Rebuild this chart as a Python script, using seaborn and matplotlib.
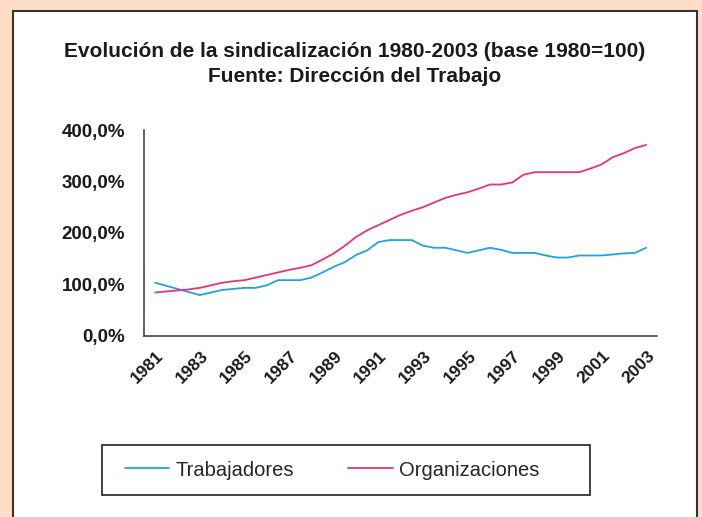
import numpy as np
import pandas as pd
import matplotlib
matplotlib.use('Agg')
import matplotlib.pyplot as plt
import matplotlib.transforms as mtransforms
import seaborn as sns
from matplotlib.patches import Rectangle
from matplotlib.lines import Line2D
from matplotlib.ticker import FuncFormatter, FixedLocator

# Datos (semestrales), base 1980 = 100
periodos = np.arange(1981, 2003.5, 0.5)
trabajadores = [103, 97, 91, 85, 79, 84, 89, 91, 93, 93,
                98, 108, 108, 108, 113, 123, 134, 143, 157, 166,
                182, 186, 186, 186, 175, 171, 171, 166, 161, 166,
                171, 167, 161, 161, 161, 156, 152, 152, 156, 156,
                156, 158, 160, 161, 171]
organizaciones = [84, 86, 88, 90, 93, 98, 103, 106, 108, 113,
                  118, 123, 128, 132, 137, 148, 160, 175, 192, 205,
                  215, 225, 235, 243, 250, 259, 268, 274, 279, 286,
                  294, 294, 298, 313, 318, 318, 318, 318, 318, 325,
                  333, 347, 355, 365, 371]
series = ['Trabajadores', 'Organizaciones']
colores = ['#21A3DC', '#E8337B']
etiquetas_x = list(range(1981, 2004, 2))

df = pd.DataFrame({
    'periodo': np.concatenate([periodos, periodos]),
    'valor': trabajadores + organizaciones,
    'serie': ['Trabajadores'] * len(trabajadores) + ['Organizaciones'] * len(organizaciones),
})

sns.set_style('white')
plt.rcParams['font.family'] = ['Liberation Sans', 'DejaVu Sans']

fig = plt.figure(figsize=(7.02, 5.17), dpi=100)
fig.patch.set_facecolor('#FFDDC6')

# panel blanco con borde oscuro (detrás de todo)
panel = Rectangle((13 / 702, -0.05), 684 / 702, 1 - 11 / 517 + 0.05,
                  transform=fig.transFigure, facecolor='white',
                  edgecolor='#333333', linewidth=1.5, zorder=-10)
fig.patches.append(panel)

ax = fig.add_axes([144 / 702, 1 - 335.7 / 517, 513.3 / 702, 205.7 / 517])
ax.set_zorder(5)
ax.set_facecolor('none')
sns.lineplot(data=df, x='periodo', y='valor', hue='serie', hue_order=series,
             palette=colores, linewidth=1.3, legend=False, ax=ax)

ax.set_xlim(1980.5, 2003.5)
ax.set_ylim(0, 400)
ax.set_xlabel('')
ax.set_ylabel('')
ax.set_yticks([0, 100, 200, 300, 400])
ax.yaxis.set_major_formatter(FuncFormatter(lambda v, p: f'{v:.1f}%'.replace('.', ',')))

# marcas entre categorías, etiquetas cada dos años
ax.xaxis.set_major_locator(FixedLocator(np.arange(1980.5, 2004, 1)))
ax.xaxis.set_major_formatter(FuncFormatter(lambda v, p: ''))
ax.xaxis.set_minor_locator(FixedLocator(etiquetas_x))
ax.xaxis.set_minor_formatter(FuncFormatter(lambda v, p: f'{int(round(v))}'))
ax.tick_params(axis='x', which='major', direction='out', length=4, width=1, color='#333333')
ax.tick_params(axis='x', which='minor', length=0, pad=13)
ax.tick_params(axis='y', direction='out', length=4.5, width=1, color='#333333', pad=9)
desplaza = mtransforms.ScaledTranslation(6 / 100, 0, fig.dpi_scale_trans)
for lab in ax.get_xticklabels(minor=True):
    lab.set_rotation(45)
    lab.set_ha('right')
    lab.set_va('center')
    lab.set_rotation_mode('anchor')
    lab.set_fontsize(12.5)
    lab.set_fontweight('bold')
    lab.set_color('#1a1a1a')
    lab.set_transform(lab.get_transform() + desplaza)
for lab in ax.get_yticklabels():
    lab.set_fontsize(13.5)
    lab.set_fontweight('bold')
    lab.set_color('#1a1a1a')

for s in ['top', 'right']:
    ax.spines[s].set_visible(False)
for s in ['left', 'bottom']:
    ax.spines[s].set_color('#333333')
    ax.spines[s].set_linewidth(1.1)

fig.text(355 / 702, 1 - 64 / 517,
         'Evolución de la sindicalización 1980-2003 (base 1980=100)\nFuente: Dirección del Trabajo',
         ha='center', va='center', fontsize=15, fontweight='bold',
         color='#1a1a1a', linespacing=1.45)

# leyenda con caja
caja = Rectangle((102 / 702, 1 - 495 / 517), 488 / 702, 50 / 517,
                 transform=fig.transFigure, facecolor='white',
                 edgecolor='#222222', linewidth=1.2, zorder=-5)
fig.patches.append(caja)
handles = [Line2D([], [], color=c, linewidth=1.3) for c in colores]
fig.legend(handles, series, loc='center left', bbox_to_anchor=(125 / 702, 1 - 470 / 517),
           ncol=2, frameon=False, fontsize=14.5, borderpad=0, borderaxespad=0,
           handlelength=2.2, handletextpad=0.3, columnspacing=2.7)

fig.savefig('out.png', dpi=100, facecolor=fig.get_facecolor())
